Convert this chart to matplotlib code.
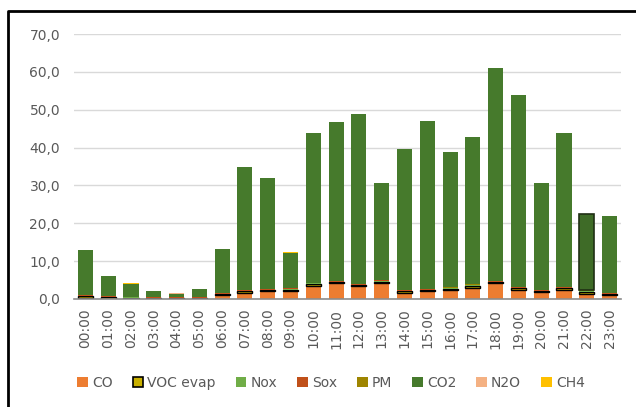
import matplotlib
matplotlib.use("Agg")
import matplotlib.pyplot as plt
import numpy as np
from matplotlib.lines import Line2D
from matplotlib.patches import Patch
from matplotlib.ticker import FuncFormatter

# godziny doby
hours = [f"{h:02d}:00" for h in range(24)]

# emisje per godzina (składniki stosu)
co = [0.3, 0.1, 0.1, 0.05, 0.05, 0.1, 1.0, 1.7, 2.0, 2.2, 3.5, 4.1,
      3.4, 4.3, 1.6, 2.1, 2.4, 3.0, 4.1, 2.4, 1.8, 2.4, 1.3, 1.0]
voc_evap = [0.5, 0.3, 0.2, 0.1, 0.1, 0.1, 0.3, 0.3, 0.3, 0.3, 0.5, 0.3,
            0.3, 0.3, 0.4, 0.3, 0.3, 0.5, 0.3, 0.5, 0.3, 0.4, 0.6, 0.3]
nox = [0.1] * 24
sox = [0.2] * 24
pm = [0.05] * 24
co2 = [11.7, 5.3, 3.4, 1.65, 0.95, 2.0, 11.6, 32.5, 29.2, 9.4, 39.5, 41.9,
       44.8, 25.7, 37.2, 44.2, 35.7, 39.0, 56.3, 50.6, 28.2, 40.6, 20.1, 20.3]
n2o = [0.03] * 24
ch4 = [0.02] * 24

series = [
    ("CO", co, "#ED7D31", "none"),
    ("VOC evap", voc_evap, "#C9B000", "black"),
    ("Nox", nox, "#70AD47", "none"),
    ("Sox", sox, "#C0501A", "none"),
    ("PM", pm, "#9E8500", "none"),
    ("CO2", co2, "#467A2C", "none"),
    ("N2O", n2o, "#F4B183", "none"),
    ("CH4", ch4, "#FFC000", "none"),
]
highlighted = "22:00"  # słupek zaznaczony w arkuszu

W, H = 636, 407
fig = plt.figure(figsize=(W / 100, H / 100), dpi=100)
ax = fig.add_axes([74 / W, 1 - 299 / H, (621 - 74) / W, (299 - 34) / H])

x = np.arange(len(hours))
bottom = np.zeros(len(hours))
handles = []
for name, vals, color, edge in series:
    vals = np.asarray(vals, dtype=float)
    bars = ax.bar(x, vals, bottom=bottom, width=0.66, color=color,
                  edgecolor=edge, linewidth=1.0 if edge != "none" else 0, zorder=3)
    if name == "CO2":
        sel = bars[hours.index(highlighted)]
        sel.set_edgecolor("#1f2f14")
        sel.set_linewidth(1.2)
        sel.set_facecolor("#3E6B27")
    bottom += vals
    handles.append(Patch(facecolor=color, edgecolor=edge,
                         linewidth=1.2 if edge != "none" else 0, label=name))

txt = "#595959"
ax.set_xlim(-0.5, len(hours) - 0.5)
ax.set_ylim(0, 70)
ax.set_yticks(np.arange(0, 71, 10))
ax.yaxis.set_major_formatter(FuncFormatter(lambda v, _: f"{v:.1f}".replace(".", ",")))
ax.set_xticks(x)
ax.set_xticklabels(hours, rotation=90)
ax.tick_params(axis="both", length=0, colors=txt, labelsize=10)
ax.tick_params(axis="x", pad=7)
ax.tick_params(axis="y", pad=10)
ax.grid(axis="y", color="#D9D9D9", linewidth=1, zorder=0)
for side in ("top", "right", "left"):
    ax.spines[side].set_visible(False)
ax.spines["bottom"].set_color("#8C8C8C")
ax.spines["bottom"].set_linewidth(1.2)
ax.spines["bottom"].set_zorder(4)

fig.legend(handles=handles, loc="center", bbox_to_anchor=(331 / W, 1 - 383 / H),
           ncol=8, frameon=False, handlelength=0.75, handleheight=0.75,
           handletextpad=0.3, columnspacing=1.45, fontsize=10, labelcolor=txt)

# ramka wykresu (lewa i górna krawędź)
fx, fy = 8 / W, 1 - 11 / H
fig.add_artist(Line2D([fx, fx, 1.0], [0.0, fy, fy], transform=fig.transFigure,
                      color="black", linewidth=2))

fig.savefig("out.png", dpi=100)
